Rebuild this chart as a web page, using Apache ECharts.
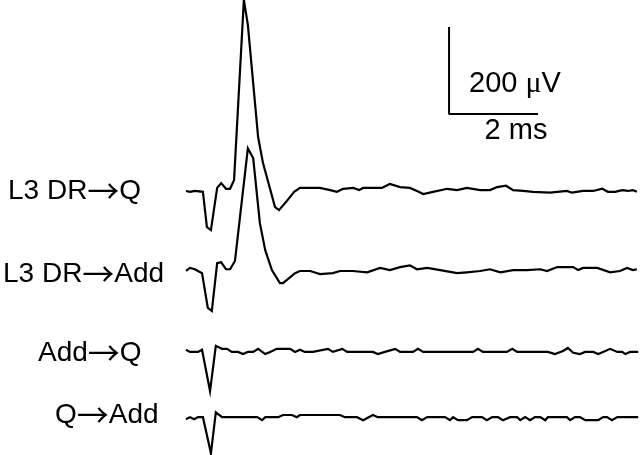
<!DOCTYPE html>
<html>
<head>
<meta charset="utf-8">
<script src="https://cdn.jsdelivr.net/npm/echarts@6/dist/echarts.min.js"></script>
<style>html,body{margin:0;padding:0;background:#fff}#c{width:640px;height:455px}</style>
</head>
<body>
<div id="c"></div>
<script>
// Trace names
const traceNames = ['L3 DR\u2192Q', 'L3 DR\u2192Add', 'Add\u2192Q', 'Q\u2192Add'];
// Baseline offset of each trace (µV, stacking)
const baselines = [614, 425, 237, 87];

// Trace 1: L3 DR→Q  (time ms, amplitude µV)
const t1 = [0,0.09,0.20,0.38,0.47,0.56,0.70,0.79,0.90,0.99,1.08,1.30,1.39,1.62,1.73,2.00,2.09,2.25,2.43,2.56,2.79,3.01,3.24,3.39,3.53,3.76,3.89,3.98,4.40,4.58,4.81,5.03,5.19,5.33,5.55,5.87,6.09,6.31,6.61,6.83,6.99,7.19,7.35,7.57,7.80,8.18,8.56,8.67,8.92,9.15,9.35,9.48,9.64,9.80,9.93,10.04,10.13];
const v1 = [-7,-9,-7,-9,-90,-97,0,11,-2,-2,18,432,375,117,57,-44,-51,-32,-9,0,0,0,-5,-9,-2,0,-5,0,0,9,2,0,-7,-14,-9,-2,-5,0,-5,-5,2,5,-5,-7,-9,-11,-7,-11,-7,-7,-2,-9,-9,-5,-7,-5,-9];

// Trace 2: L3 DR→Add
const t2 = [0,0.09,0.20,0.36,0.40,0.49,0.58,0.70,0.79,0.90,0.99,1.10,1.39,1.51,1.66,1.78,1.93,2.11,2.18,2.45,2.56,2.79,3.01,3.30,3.46,3.75,4.07,4.36,4.58,4.81,5.03,5.19,5.42,5.71,6.09,6.31,6.61,6.83,7.06,7.35,7.66,7.96,8.11,8.34,8.70,8.81,8.92,9.24,9.53,9.75,9.91,10.04,10.13];
const v2 = [-2,5,2,-7,-7,-87,-94,16,18,2,2,21,280,257,108,46,0,-30,-30,-7,-2,-2,-9,-7,-2,-2,-5,5,0,7,11,2,5,0,-7,-5,-2,2,-5,0,0,2,-2,7,7,0,5,5,-5,-2,5,0,2];

// Trace 3: Add→Q
const t3 = [0,0.09,0.27,0.36,0.54,0.67,0.81,0.92,1.03,1.17,1.28,1.39,1.51,1.62,1.78,1.89,2.04,2.34,2.45,2.56,2.67,2.85,3.19,3.30,3.51,3.62,4.20,4.31,4.47,4.70,4.81,5.10,5.21,5.33,6.45,6.56,6.67,7.21,7.33,7.44,8.13,8.29,8.47,8.58,8.70,8.85,8.97,9.15,9.26,9.37,9.53,9.69,9.80,9.87,9.98,10.16];
const v3 = [5,0,0,5,-90,14,7,7,0,0,-5,0,0,7,-5,0,7,7,0,5,0,0,7,0,7,0,0,-5,0,7,0,0,7,0,0,7,0,0,7,0,0,-5,2,9,-2,-5,0,0,-5,0,7,0,0,-5,0,0];

// Trace 4: Q→Add
const t4 = [0,0.09,0.18,0.27,0.38,0.56,0.67,0.81,1.60,1.71,1.78,2.07,2.18,2.38,2.49,2.56,3.46,3.57,3.84,3.98,4.20,4.31,5.19,5.30,5.42,5.82,5.93,6.00,6.11,6.31,6.43,6.65,6.76,6.88,7.01,7.12,7.28,7.44,7.51,7.62,7.73,7.84,7.96,8.07,8.13,8.56,8.63,8.74,8.85,8.97,9.26,9.37,9.46,9.57,9.69,10.16];
const v4 = [-5,0,-5,0,0,-83,11,0,0,-7,0,0,5,5,0,5,5,0,0,-7,5,0,0,-7,0,0,-7,0,-7,-7,0,0,-7,0,0,-7,0,0,-7,0,-7,0,0,-7,0,0,-7,0,0,-7,-7,0,0,-7,0,0];

// Scale bar: 2 ms x 200 µV, corner position (ms, µV)
const barCorner = [5.91, 784];
const barTime = 2;      // ms
const barAmp = 200;     // µV
const barLabels = ['200 ', '\u03bc', 'V', '2 ms'];

const times = [t1, t2, t3, t4];
const values = [v1, v2, v3, v4];

const chart = echarts.init(document.getElementById('c'), null, {renderer: 'canvas'});

const series = times.map((t, i) => ({
  type: 'line',
  name: traceNames[i],
  data: t.map((x, j) => [x, values[i][j] + baselines[i]]),
  showSymbol: false,
  symbol: 'none',
  clip: false,
  lineStyle: {color: '#000', width: 2.2, join: 'miter'},
  itemStyle: {color: '#000'},
  animation: false
}));

series.push({
  type: 'line',
  name: 'scalebar',
  data: [
    [barCorner[0], barCorner[1] + barAmp],
    [barCorner[0], barCorner[1]],
    [barCorner[0] + barTime, barCorner[1]]
  ],
  showSymbol: false,
  symbol: 'none',
  lineStyle: {color: '#000', width: 2},
  animation: false
});

const option = {
  backgroundColor: '#fff',
  animation: false,
  grid: {left: 186, right: 0, top: 0, bottom: 0, containLabel: false},
  xAxis: {type: 'value', min: 0, max: 10.2, show: false},
  yAxis: {type: 'value', min: 0, max: 1046, show: false},
  series: series
};
chart.setOption(option);

// Labels placed next to traces, vertically tied to each trace baseline
const labelLeft = [8, 3, 38, 55];
const labelDy = [4, 5, 2, -1];
const font = '"Liberation Sans", Arial, sans-serif';
const richStyles = {
  a: {font: '28px ' + font, fill: '#000'},
  r: {font: '32px "Noto Sans CJK JP", "DejaVu Sans", sans-serif', fill: '#000'}
};
const graphics = traceNames.map((name, i) => {
  const p = chart.convertToPixel({gridIndex: 0}, [0, baselines[i]]);
  const parts = name.split('\u2192');
  return {
    type: 'text',
    left: labelLeft[i],
    top: p[1] + labelDy[i] - 17,
    style: {
      rich: richStyles,
      text: '{a|' + parts[0] + '}{r|\u2192}{a|' + parts[1] + '}'
    }
  };
});
const pAmp = chart.convertToPixel({gridIndex: 0}, [barCorner[0], barCorner[1] + barAmp / 2]);
const pTime = chart.convertToPixel({gridIndex: 0}, [barCorner[0] + barTime / 2, barCorner[1]]);
graphics.push({
  type: 'text',
  left: pAmp[0] + 20,
  top: pAmp[1] - 1,
  style: {
    rich: {
      a: {font: '29px ' + font, fill: '#000'},
      m: {font: '30px "Liberation Serif", serif', fill: '#000'}
    },
    text: '{a|' + barLabels[0] + '}{m|' + barLabels[1] + '}{a|' + barLabels[2] + '}'
  }
});
graphics.push({
  type: 'text',
  left: pTime[0] - 9,
  top: pTime[1] + 3,
  style: {text: barLabels[3], font: '29px ' + font, fill: '#000'}
});
chart.setOption({graphic: graphics});
</script>
</body>
</html>
